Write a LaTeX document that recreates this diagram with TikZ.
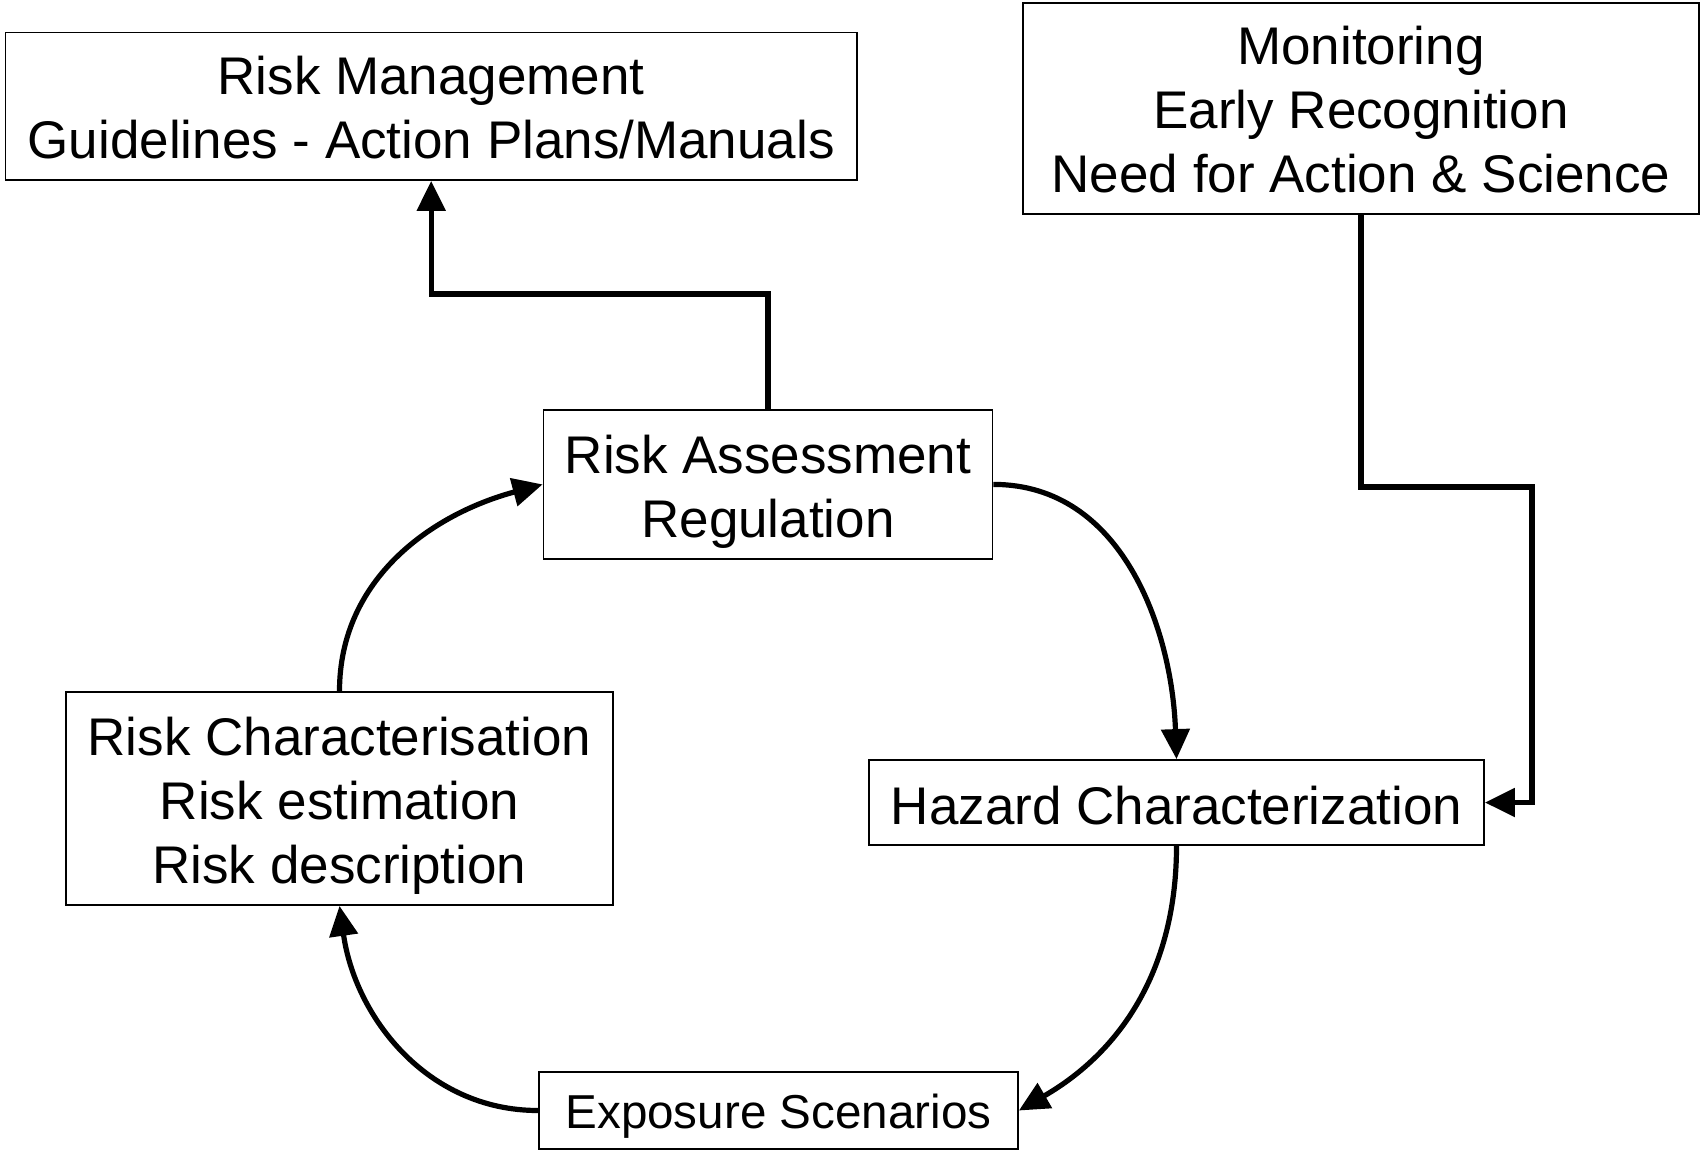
\documentclass[tikz,border=0pt]{standalone}
\usepackage{fontspec}
\setmainfont{Liberation Sans}
\usetikzlibrary{arrows.meta}
\begin{document}
\begin{tikzpicture}[x=0.5pt,y=-0.5pt,
  box/.style={draw,line width=0.9pt,rectangle,inner sep=0pt},
  txt/.style={align=center,inner sep=0pt,font=\fontsize{26.5}{32}\selectfont},
  smalltxt/.style={txt,font=\fontsize{23.8}{28}\selectfont},
  conn/.style={line width=2.6pt,-{Triangle[length=15pt,width=14pt]}}]
\path[use as bounding box,fill=white] (0,0) rectangle (1701,1151);

% boxes, each with its text centred inside
\node[box,minimum width=425.8pt,minimum height=73.8pt,
  label={[txt,yshift=-0.8pt]center:{Risk Management\\Guidelines - Action Plans/Manuals}}]
  (rm) at (431.2,106.2) {};
\node[box,minimum width=338pt,minimum height=105.2pt,
  label={[txt,yshift=-0.5pt]center:{Monitoring\\Early Recognition\\Need for Action \& Science}}]
  (mon) at (1361,108.5) {};
\node[box,minimum width=224.5pt,minimum height=74.4pt,
  label={[txt,yshift=-3.8pt]center:{Risk Assessment\\Regulation}}]
  (ra) at (768,484.4) {};
\node[box,minimum width=273.5pt,minimum height=106.5pt,
  label={[txt,yshift=-3.8pt]center:{Risk Characterisation\\Risk estimation\\Risk description}}]
  (rc) at (339.5,798.5) {};
\node[box,minimum width=307.5pt,minimum height=42.5pt,
  label={[txt,yshift=-1.6pt]center:{Hazard Characterization}}]
  (hc) at (1176.5,802.5) {};
\node[box,minimum width=239.5pt,minimum height=38.5pt,
  label={[smalltxt,yshift=-2.7pt]center:{Exposure Scenarios}}]
  (es) at (778.5,1110.5) {};

% elbow connectors
\coordinate (upbend) at (768,294);
\draw[conn] (ra.north) -- (upbend) -| (rm.south);
\coordinate (monbend) at (1532,487);
\draw[conn] (mon.south) |- (monbend) |- (hc.east);

% assessment cycle
\draw[conn] (ra.east) to[out=0,in=92] (hc.north);
\draw[conn] (hc.south) to[out=-90,in=30] (es.east);
\draw[conn] (es.west) to[out=180,in=-82] (rc.south);
\draw[conn] (rc.north) to[out=90,in=195] (ra.west);
\end{tikzpicture}
\end{document}
